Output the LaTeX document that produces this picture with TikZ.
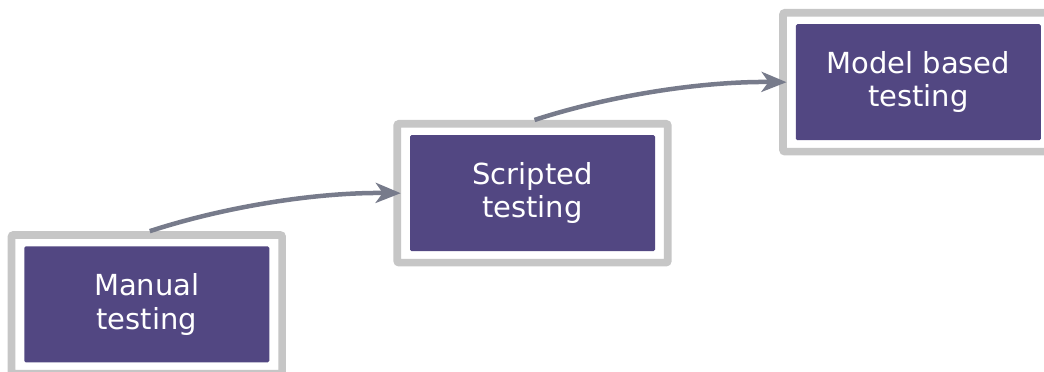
\documentclass[tikz,border=0pt]{standalone}
\usepackage{fontspec}
\setmainfont{DejaVu Sans}
\usetikzlibrary{arrows.meta,calc}
\definecolor{boxpurple}{HTML}{524782}
\definecolor{framegrey}{HTML}{C6C6C6}
\definecolor{arrowgrey}{HTML}{777B8B}
\tikzset{
  outerframe/.style={draw=framegrey, line width=7.7pt, fill=white, rounded corners=2pt,
    minimum width=270.6pt, minimum height=138.8pt, inner sep=0pt},
  stagebox/.style={fill=boxpurple, text=white, rounded corners=1.5pt,
    minimum width=245pt, minimum height=116pt, inner sep=0pt, align=center,
    font=\fontsize{29}{33.5}\selectfont},
  flowarrow/.style={draw=arrowgrey, line width=4.5pt,
    -{Stealth[length=25pt,width=20pt,inset=7pt]}},
}
\begin{document}
\begin{tikzpicture}[x=1pt,y=-1pt]
\useasboundingbox (0,0) rectangle (1044,372);
\node[outerframe] (f1) at (146.8,304.4) {};
\node[stagebox] (m1) at (146.8,304.4) {Manual\\testing};
\node[outerframe] (f2) at (532.5,193.2) {};
\node[stagebox] (m2) at (532.5,193.2) {Scripted\\testing};
\node[outerframe] (f3) at (918.3,82.2) {};
\node[stagebox] (m3) at (918.3,82.2) {Model based\\testing};
\draw[flowarrow] ([xshift=3pt]f1.north) .. controls +(80,-26) and +(-80,-1) .. ([xshift=7.4pt]f2.west);
\draw[flowarrow] ([xshift=2pt]f2.north) .. controls +(80,-26) and +(-80,-1) .. ([xshift=7.4pt]f3.west);
\end{tikzpicture}
\end{document}
